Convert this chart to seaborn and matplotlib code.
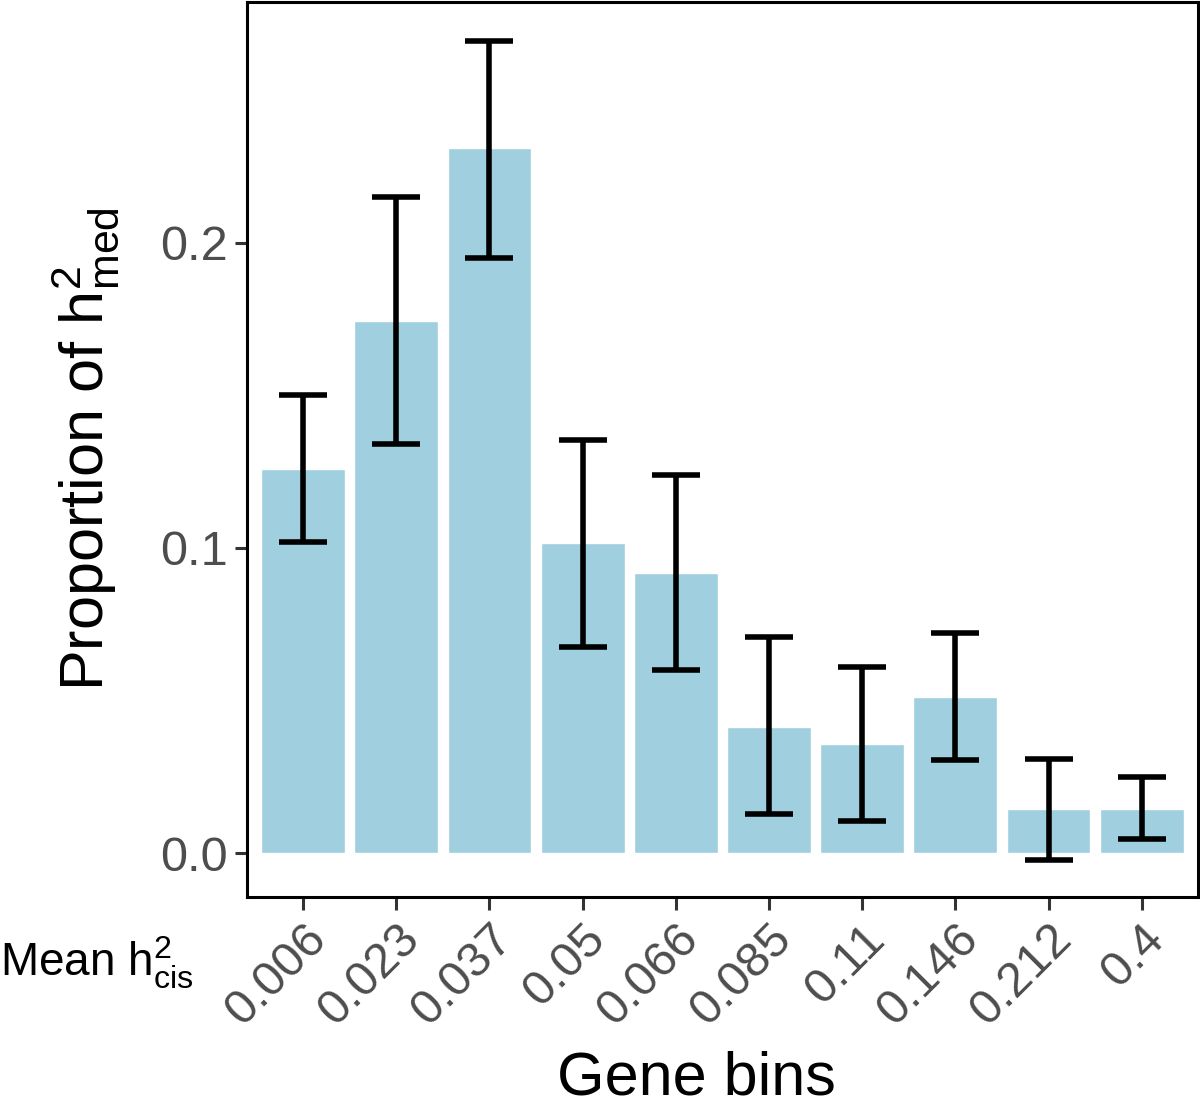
import numpy as np
import pandas as pd
import seaborn as sns
import matplotlib.pyplot as plt

# 数据
bins = ['0.006', '0.023', '0.037', '0.05', '0.066', '0.085', '0.11', '0.146', '0.212', '0.4']
prop = [0.126, 0.1745, 0.231, 0.1015, 0.0917, 0.0412, 0.0357, 0.051, 0.0144, 0.0144]
err_low = [0.102, 0.134, 0.195, 0.0674, 0.060, 0.0128, 0.0105, 0.0304, -0.0023, 0.0046]
err_high = [0.150, 0.215, 0.266, 0.1355, 0.124, 0.0707, 0.0609, 0.072, 0.031, 0.0249]

df = pd.DataFrame({'bin': bins, 'prop': prop, 'lo': err_low, 'hi': err_high})

sns.set_theme(style='white')
plt.rcParams['font.family'] = ['Liberation Sans', 'DejaVu Sans']
plt.rcParams['mathtext.fontset'] = 'custom'
plt.rcParams['mathtext.rm'] = 'Liberation Sans'
plt.rcParams['mathtext.it'] = 'Liberation Sans'

fig = plt.figure(figsize=(12, 11.08), dpi=100)
ax = fig.add_axes([0.206, 0.1904, 0.792, 0.808])

sns.barplot(data=df, x='bin', y='prop', order=bins, color='#A0CFE0', saturation=1,
            width=0.9, edgecolor='white', linewidth=1, ax=ax)

xpos = np.arange(len(bins))
ax.errorbar(xpos, df['prop'], yerr=[df['prop'] - df['lo'], df['hi'] - df['prop']],
            fmt='none', ecolor='black', elinewidth=4, capsize=17, capthick=4)

ax.set_xlim(-0.6, 9.6)
ax.set_ylim(-0.0144, 0.279)
ax.set_yticks([0.0, 0.1, 0.2])
ax.set_yticklabels(['0.0', '0.1', '0.2'])
ax.set_xticks(xpos)
ax.set_xticklabels(bins, rotation=45, ha='right', va='top', rotation_mode='anchor')

ax.tick_params(axis='both', which='both', direction='out', length=9, width=2.2,
               color='#333333', labelsize=35, labelcolor='#4D4D4D', pad=5, bottom=True, left=True)
for s in ax.spines.values():
    s.set_visible(True)
    s.set_color('black')
    s.set_linewidth(2.2)

ax.set_xlabel('Gene bins', fontsize=44, color='black')
ax.xaxis.set_label_coords(0.473, -0.171)
ax.set_ylabel(r'Proportion of $\mathregular{h^2_{med}}$', fontsize=44, labelpad=28, color='black')

fig.text(0.0, 0.131, r'Mean $\mathregular{h^2_{cis}}$', fontsize=33, color='black', ha='left', va='center')

fig.savefig('out.png', dpi=100)
